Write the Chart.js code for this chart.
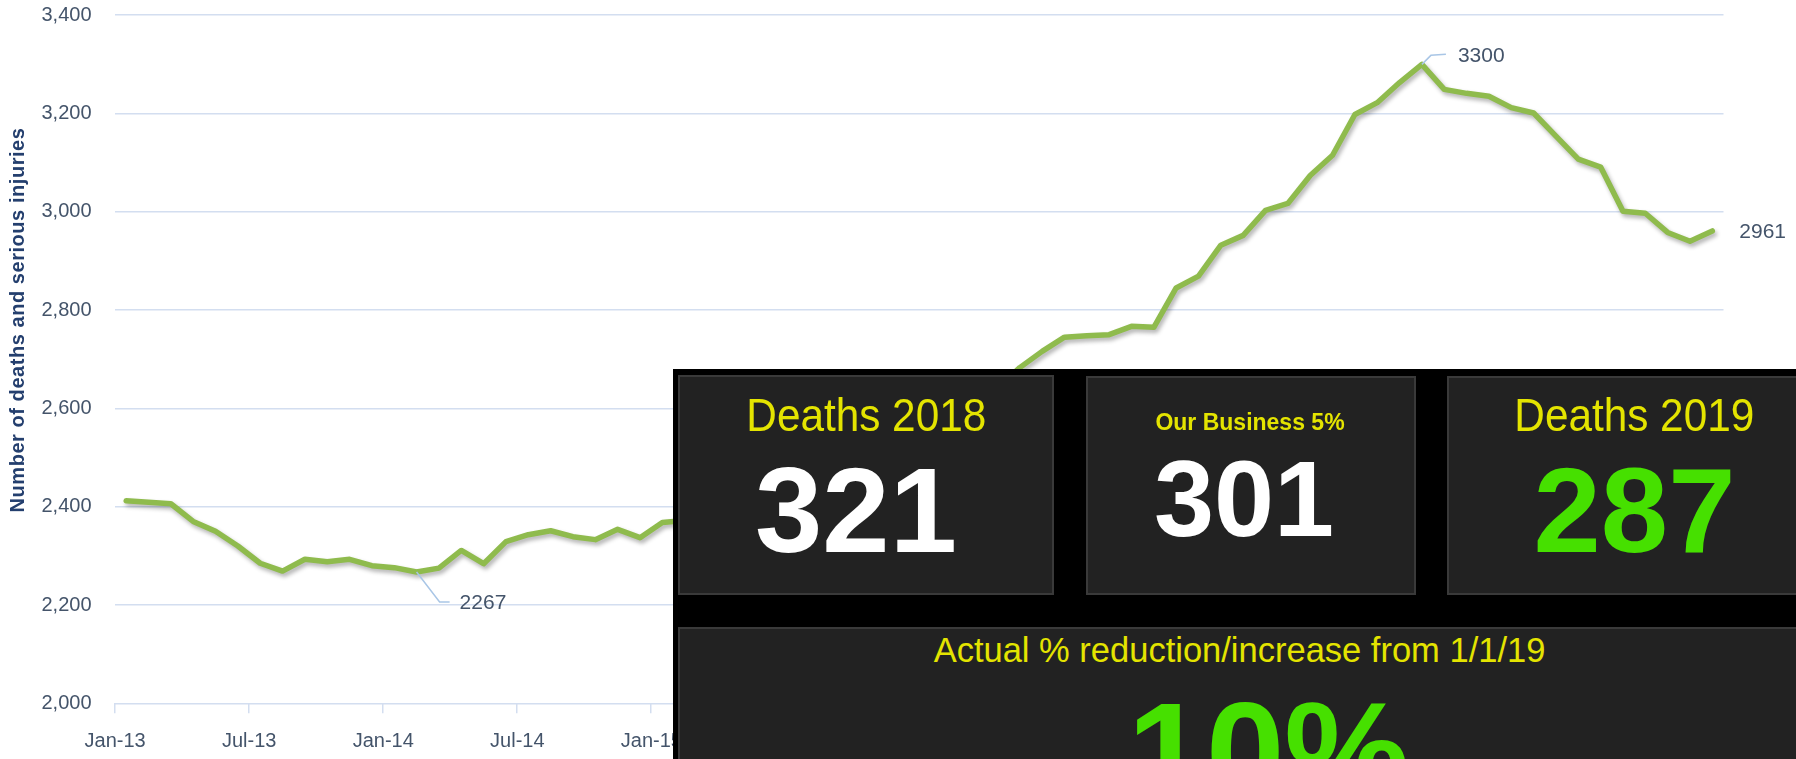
<!DOCTYPE html>
<html>
<head>
<meta charset="utf-8">
<script src="https://cdn.jsdelivr.net/npm/chart.js@4.4.1/dist/chart.umd.min.js"></script>
<style>
  html, body { margin: 0; padding: 0; background: #fff; }
  #wrap { position: relative; width: 1796px; height: 759px; overflow: hidden; }
  #c { position: absolute; left: 0; top: 0; }
  .ytitle { position: absolute; left: -214px; top: 310px; width: 460px; height: 20px; line-height: 20px;
            text-align: center; font: bold 20px 'Liberation Sans', Arial, sans-serif; letter-spacing: 0.55px;
            color: #243f6e; transform: rotate(-90deg); white-space: nowrap; }
  .panel { position: absolute; left: 673px; top: 369px; width: 1200px; height: 420px; background: #000; }
  .box { position: absolute; background: #222; border: 2px solid #3a3a3a; box-sizing: border-box; }
  .t { position: absolute; width: 800px; white-space: nowrap; text-align: center; line-height: 1;
       font-family: 'Liberation Sans', Arial, sans-serif; }
  .yel { color: #e4e400; }
  .grn { color: #46e000; }
  .wht { color: #ffffff; }
  .sx { display: inline-block; transform: scaleX(0.9); }
</style>
</head>
<body>
<div id="wrap">
  <canvas id="c" width="1796" height="759"></canvas>
  <div class="ytitle" id="ytitle"></div>

  <div class="panel"></div>
  <div class="box" style="left:678px;top:375px;width:376px;height:220px;"></div>
  <div class="box" style="left:1086px;top:376px;width:330px;height:219px;"></div>
  <div class="box" style="left:1447px;top:376px;width:380px;height:219px;"></div>
  <div class="box" style="left:678px;top:627px;width:1200px;height:220px;"></div>

  <div class="t yel" id="h1" style="left:466px;top:390.6px;font-size:47px;"></div>
  <div class="t wht" id="v1" style="left:456px;top:450.2px;font-size:121px;font-weight:bold;"></div>
  <div class="t yel" id="h2" style="left:850px;top:411px;font-size:23px;font-weight:bold;"></div>
  <div class="t wht" id="v2" style="left:844px;top:444.9px;font-size:108px;font-weight:bold;"></div>
  <div class="t yel" id="h3" style="left:1234.6px;top:390.6px;font-size:47px;"></div>
  <div class="t grn" id="v3" style="left:1234.5px;top:450.2px;font-size:121px;font-weight:bold;"></div>
  <div class="t yel" id="h4" style="left:839.5px;top:633px;font-size:34.5px;"></div>
  <div class="t grn" id="v4" style="left:868.6px;top:681.6px;font-size:141px;font-weight:bold;"></div>
</div>

<script>
// ---------- data ----------
const months = ['Jan','Feb','Mar','Apr','May','Jun','Jul','Aug','Sep','Oct','Nov','Dec'];
const years = ['13','14','15','16','17','18'];
const categories = years.flatMap(y => months.map(m => m + '-' + y));

// rolling 12-month deaths and serious injuries (Feb-15..Apr-16 hidden behind the panel, estimated)
const ksiValues = [
  2412, 2409, 2406, 2370, 2350, 2320, 2285, 2269, 2293, 2288, 2293, 2280,
  2276, 2267, 2275, 2311, 2284, 2329, 2343, 2351, 2339, 2333, 2354, 2337,
  2368, 2372, 2385, 2392, 2405, 2418, 2430, 2446, 2462, 2480, 2500, 2522,
  2545, 2570, 2600, 2640, 2683, 2716, 2745, 2748, 2750, 2767, 2765, 2845,
  2869, 2932, 2952, 3003, 3017, 3074, 3115, 3198, 3222, 3263, 3300, 3249,
  3241, 3235, 3212, 3201, 3154, 3107, 3091, 3001, 2997, 2958, 2940, 2961
];
const yMin = 2000, yMax = 3400, yStep = 200;
const tickEvery = 6;
const labelledIndices = [13, 58, 71];

const yAxisTitle = 'Number of deaths and serious injuries';
const panelHeadings = ['Deaths 2018', 'Our Business 5%', 'Deaths 2019', 'Actual % reduction/increase from 1/1/19'];
const panelValues = ['321', '301', '287', '10%'];

// ---------- styles ----------
const tickColor = '#44546a';
const gridColor = '#d3def0';
const lineColor = '#8fbb4d';
const leaderColor = '#a9c6e6';
const tickFont = { family: "'Liberation Sans', Arial, sans-serif", size: 20 };
// callout leader geometry, relative to the point
const calloutStyle = {
  13: { path: [[23, 30], [33, 30]], text: [43, 31] },
  58: { path: [[9, -9], [24, -10]], text: [36, -8.5] },
  71: { path: [], text: [27, 1.5] }
};

// ---------- texts ----------
document.getElementById('ytitle').textContent = yAxisTitle;
document.getElementById('h1').innerHTML = '<span class="sx"></span>';
document.querySelector('#h1 .sx').textContent = panelHeadings[0];
document.getElementById('h2').textContent = panelHeadings[1];
document.getElementById('h3').innerHTML = '<span class="sx"></span>';
document.querySelector('#h3 .sx').textContent = panelHeadings[2];
document.getElementById('h4').textContent = panelHeadings[3];
document.getElementById('v1').textContent = panelValues[0];
document.getElementById('v2').textContent = panelValues[1];
document.getElementById('v3').textContent = panelValues[2];
document.getElementById('v4').textContent = panelValues[3];

// ---------- plugins ----------
const shadowPlugin = {
  id: 'lineShadow',
  beforeDatasetsDraw(chart) {
    const ctx = chart.ctx;
    ctx.save();
    ctx.shadowColor = 'rgba(0,0,0,0.30)';
    ctx.shadowBlur = 4;
    ctx.shadowOffsetX = 2;
    ctx.shadowOffsetY = 3;
  },
  afterDatasetsDraw(chart) {
    chart.ctx.restore();
  }
};

const calloutPlugin = {
  id: 'callouts',
  afterDraw(chart) {
    const ctx = chart.ctx;
    const meta = chart.getDatasetMeta(0);
    ctx.save();
    labelledIndices.forEach(i => {
      const pt = meta.data[i];
      const st = calloutStyle[i];
      if (st.path.length) {
        ctx.beginPath();
        ctx.moveTo(pt.x, pt.y);
        st.path.forEach(([dx, dy]) => ctx.lineTo(pt.x + dx, pt.y + dy));
        ctx.strokeStyle = leaderColor;
        ctx.lineWidth = 1.5;
        ctx.stroke();
      }
      ctx.fillStyle = tickColor;
      ctx.font = "21px 'Liberation Sans', Arial, sans-serif";
      ctx.textAlign = 'left';
      ctx.textBaseline = 'middle';
      ctx.fillText(String(ksiValues[i]), pt.x + st.text[0], pt.y + st.text[1]);
    });
    ctx.restore();
  }
};

// ---------- chart ----------
new Chart(document.getElementById('c'), {
  type: 'line',
  data: {
    labels: categories,
    datasets: [{
      data: ksiValues,
      borderColor: lineColor,
      borderWidth: 5.5,
      pointRadius: 0,
      tension: 0,
      borderJoinStyle: 'round',
      borderCapStyle: 'round',
      fill: false
    }]
  },
  options: {
    responsive: false,
    animation: false,
    devicePixelRatio: 1,
    layout: { padding: { left: 0, right: 72.5, top: 15.2, bottom: 0 } },
    plugins: { legend: { display: false }, tooltip: { enabled: false } },
    scales: {
      x: {
        offset: true,
        border: { display: false },
        grid: {
          offset: true,
          drawOnChartArea: false,
          drawTicks: true,
          tickLength: 10,
          lineWidth: 1.5,
          tickColor: ctx => (ctx.index % tickEvery === 0 ? gridColor : 'rgba(0,0,0,0)')
        },
        ticks: {
          autoSkip: false,
          maxRotation: 0,
          minRotation: 0,
          padding: 16,
          labelOffset: -11,
          color: tickColor,
          font: tickFont,
          callback: (v, i) => (i % tickEvery === 0 ? categories[i] : '')
        },
        afterFit: s => { s.height = 55.7; }
      },
      y: {
        min: yMin,
        max: yMax,
        border: { display: false },
        grid: { color: gridColor, lineWidth: 1.5, drawTicks: true, tickLength: 23.5, tickColor: 'rgba(0,0,0,0)' },
        ticks: {
          stepSize: yStep,
          padding: 0,
          color: tickColor,
          font: tickFont,
          callback: v => v.toLocaleString('en-US')
        },
        afterFit: s => { s.width = 115; }
      }
    }
  },
  plugins: [shadowPlugin, calloutPlugin]
});
</script>
</body>
</html>
